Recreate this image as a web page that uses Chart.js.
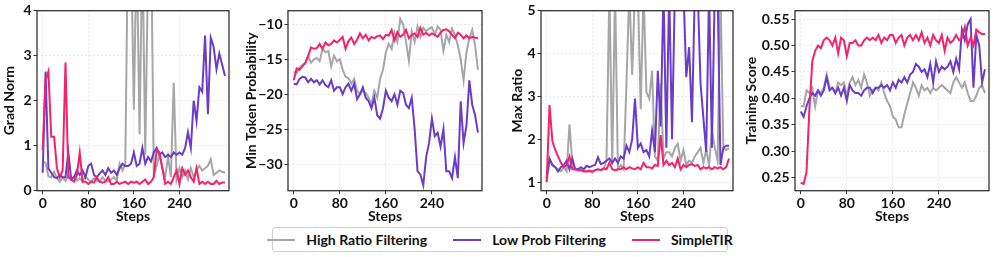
<!DOCTYPE html>
<html>
<head>
<meta charset="utf-8">
<script src="https://cdn.jsdelivr.net/npm/chart.js@4.4.0/dist/chart.umd.min.js"></script>
<style>
  body { margin: 0; width: 995px; height: 257px; background: #fff; position: relative; overflow: hidden; font-family: Lato, sans-serif; }
  canvas { position: absolute; top: 0; }
  #legend {
    position: absolute; left: 272px; top: 227px; width: 454px; height: 23px;
    border: 1px solid #cfcfcf; border-radius: 3px;
    display: flex; align-items: center; justify-content: center; gap: 26px;
    font: bold 14px Lato, sans-serif; color: #111; white-space: nowrap;
  }
  .item { display: flex; align-items: center; gap: 11px; flex-shrink: 0; }
  .swatch { width: 28px; height: 2px; }
</style>
</head>
<body>
<canvas id="grad"></canvas>
<canvas id="minprob"></canvas>
<canvas id="ratio"></canvas>
<canvas id="score"></canvas>
<div id="legend"></div>
<script>
const seriesNames = ["High Ratio Filtering", "Low Prob Filtering", "SimpleTIR"];
const seriesColors = ["#a6a6a6", "#6a3dc8", "#f5216a"];

const steps = [0,5,10,15,20,25,30,35,40,45,50,55,60,65,70,75,80,85,90,95,100,105,110,115,120,125,130,135,140,145,150,155,160,165,170,175,180,185,190,195,200,205,210,215,220,225,230,235,240,245,250,255,260,265,270,275,280,285,290,295,300,305,310,315,320];
const stepTicks = [0, 80, 160, 240];

// Grad Norm
const gradHigh = [0.65,0.62,0.32,0.3,0.42,0.28,0.2,0.3,0.22,0.35,
  0.25,0.3,0.22,0.28,0.2,0.32,0.25,0.2,0.28,0.22,
  0.2,0.3,0.22,0.2,0.25,0.3,0.22,0.6,0.45,0.6,
  6.0,5.5,1.8,5.5,1.25,5.5,0.8,5.0,6.0,0.35,
  0.55,0.8,0.5,0.3,0.75,0.3,2.4,0.25,0.5,0.3,
  0.45,0.25,0.5,0.3,0.45,0.55,0.45,0.5,0.55,0.7,
  0.35,0.4,0.45,0.42,0.4];
const gradLow = [0.4,2.65,0.5,0.4,0.3,0.28,0.35,0.3,0.3,0.85,
  0.25,0.3,0.45,0.35,0.45,0.3,0.55,0.6,0.35,0.3,
  0.38,0.45,0.35,0.5,0.4,0.45,0.35,0.5,0.6,0.55,
  0.55,0.6,0.85,0.55,0.6,0.95,0.6,0.75,0.65,0.85,
  0.95,0.8,0.85,0.75,0.8,0.75,0.85,0.8,0.85,0.8,
  0.95,1.3,0.95,2.0,1.55,2.3,2.2,3.45,1.7,3.4,
  3.2,2.7,3.05,2.8,2.55];
const gradSimple = [0.9,2.45,2.65,1.2,1.2,0.5,0.3,0.45,2.85,0.3,
  0.25,0.2,0.35,0.85,0.2,0.2,0.15,0.2,0.18,0.3,
  0.2,0.18,0.2,0.3,0.15,0.15,0.2,0.15,0.18,0.2,
  0.15,0.2,0.18,0.2,0.15,0.2,0.25,0.15,0.2,0.3,
  0.9,0.85,0.5,0.15,0.2,0.15,0.3,0.45,0.15,0.5,
  0.35,0.45,0.3,0.2,0.5,0.15,0.2,0.15,0.2,0.15,
  0.15,0.22,0.15,0.18,0.18];
const gradTicks = [0, 1, 2, 3, 4];

// Min Token Probability
const minHigh = [-16.8,-17,-16.2,-15.8,-15.6,-14.5,-15.5,-15,-14.8,-15.3,
  -13.5,-14,-13.8,-16,-14.5,-15.3,-15,-16.5,-17.5,-17.7,
  -18.5,-17.8,-19.5,-20,-19.5,-19.8,-20.5,-21.5,-19.5,-20.5,
  -17.8,-16.5,-14,-12.8,-13.5,-11.2,-12.5,-9.2,-10,-12.5,
  -15.2,-11,-12.5,-10.3,-11.8,-10.5,-11,-10.6,-10.4,-11.5,
  -10.3,-10.8,-13.8,-11.5,-12.5,-10.6,-11.5,-13,-15,-18,
  -14,-12,-10.8,-13,-16.5];
const minLow = [-18.5,-18.6,-17.8,-17.5,-17.6,-18.3,-17.8,-18.3,-18,-18.6,
  -18,-18.7,-19,-18,-19.5,-19,-19,-20,-19,-18.5,
  -19.5,-18.5,-20.7,-20,-19,-20.5,-21,-22,-20.5,-23,
  -23.5,-22,-19.5,-20.5,-21,-20,-21.5,-19.5,-19.8,-21.5,
  -22,-20.5,-25,-31,-31.5,-33,-29,-27,-23.5,-26,
  -25.5,-27.5,-25,-31,-31,-32,-29,-32,-21,-27,
  -24.5,-18,-21.5,-23,-25.5];
const minSimple = [-18,-16.3,-16.5,-16,-15.5,-14.5,-13.3,-13.5,-13.4,-12.8,
  -13.5,-12.6,-13,-12.8,-12.3,-12.6,-12.2,-11.8,-13.5,-12.4,
  -11.9,-12.8,-12.2,-11.3,-12,-11.5,-12.3,-11.8,-12,-11.7,
  -11.6,-12.1,-11.5,-11.6,-10.8,-12.3,-11.1,-11.8,-11.5,-10.8,
  -12,-11.5,-11.3,-11.8,-10.5,-11.5,-11.2,-11.6,-11.3,-11.5,
  -11.8,-11.2,-10.8,-10.7,-11,-11.5,-12,-11.2,-11.5,-12,
  -11.6,-12,-11.8,-11.9,-12];
const minTicks = [-30, -25, -20, -15, -10];

// Max Ratio
const ratioHigh = [1.0,1.5,1.4,1.35,1.3,1.25,1.35,1.25,2.35,1.45,
  1.3,1.3,1.28,1.27,1.25,1.25,1.22,1.28,1.3,1.28,
  1.3,1.5,5.5,1.4,5.5,1.3,1.4,1.3,3.3,5.5,
  3.5,5.5,5.5,2.7,5.5,3.1,2.95,3.6,1.6,1.5,
  3.3,1.55,1.7,1.7,1.6,1.8,1.9,1.5,1.75,1.4,
  1.5,1.45,1.6,1.7,1.8,1.45,1.75,1.4,2.2,1.8,
  1.5,5.5,1.8,1.75,1.8];
const ratioLow = [1.1,1.55,1.4,1.35,1.25,1.35,1.4,1.5,1.3,1.55,
  1.3,1.3,1.35,1.3,1.38,1.35,1.38,1.4,1.58,1.42,
  1.45,1.5,1.55,1.45,1.55,1.45,1.6,1.55,1.85,1.7,
  2.0,2.95,1.8,1.9,1.7,1.75,1.6,2.2,1.7,3.6,
  2.3,5.5,1.8,5.5,2.0,5.5,5.5,5.5,5.5,3.45,
  4.15,2.4,5.5,5.5,3.3,2.5,1.7,5.5,1.8,5.5,
  5.5,1.4,1.8,1.85,1.85];
const ratioSimple = [1.0,2.8,1.95,1.75,1.6,1.45,1.35,1.4,1.6,1.3,
  1.3,1.28,1.28,1.25,1.25,1.27,1.25,1.28,1.3,1.28,
  1.32,1.3,1.45,1.3,1.28,1.3,1.3,1.35,1.3,1.35,
  1.32,1.3,1.35,1.3,1.45,1.35,1.35,1.32,1.4,1.38,
  2.1,1.4,1.5,1.4,1.45,1.35,1.55,1.3,1.4,1.35,
  1.4,1.42,1.38,1.4,1.3,1.35,1.32,1.35,1.3,1.35,
  1.32,1.35,1.3,1.35,1.55];
const ratioTicks = [1, 2, 3, 4, 5];

// Training Score
const scoreHigh = [0.385,0.385,0.415,0.41,0.42,0.385,0.415,0.41,0.42,0.445,
  0.42,0.42,0.41,0.43,0.425,0.43,0.405,0.43,0.44,0.425,
  0.435,0.42,0.445,0.43,0.405,0.415,0.42,0.415,0.43,0.41,
  0.395,0.385,0.365,0.36,0.345,0.345,0.37,0.39,0.41,0.43,
  0.42,0.405,0.425,0.415,0.42,0.41,0.42,0.415,0.42,0.425,
  0.42,0.415,0.41,0.43,0.44,0.43,0.42,0.43,0.41,0.395,
  0.395,0.405,0.42,0.425,0.41];
const scoreLow = [0.375,0.365,0.385,0.4,0.41,0.405,0.415,0.405,0.415,0.44,
  0.415,0.42,0.41,0.42,0.405,0.42,0.395,0.425,0.415,0.41,
  0.41,0.405,0.415,0.42,0.42,0.41,0.42,0.42,0.425,0.42,
  0.425,0.415,0.43,0.42,0.435,0.43,0.44,0.43,0.445,0.45,
  0.465,0.46,0.45,0.455,0.44,0.465,0.43,0.47,0.45,0.46,
  0.455,0.46,0.47,0.45,0.475,0.455,0.53,0.51,0.54,0.55,
  0.42,0.52,0.5,0.43,0.455];
const scoreSimple = [0.24,0.238,0.26,0.38,0.47,0.49,0.5,0.495,0.51,0.515,
  0.51,0.5,0.515,0.485,0.515,0.51,0.48,0.505,0.505,0.51,
  0.5,0.5,0.51,0.515,0.51,0.515,0.51,0.52,0.505,0.515,
  0.51,0.52,0.52,0.505,0.515,0.52,0.5,0.515,0.52,0.51,
  0.52,0.51,0.525,0.505,0.515,0.5,0.52,0.51,0.505,0.52,
  0.49,0.515,0.505,0.51,0.52,0.51,0.515,0.535,0.5,0.515,
  0.5,0.53,0.525,0.522,0.522];
const scoreTicks = [0.25, 0.30, 0.35, 0.40, 0.45, 0.50, 0.55];

Chart.defaults.font.family = "Lato, sans-serif";
Chart.defaults.font.weight = "bold";
Chart.defaults.color = "#111";
Chart.defaults.animation = false;

const PLOT_TOP = 10.7;
const PLOT_BOTTOM = 190.7;
const CANVAS_H = 226;

// full box around the plot area, like a matplotlib frame
const frame = {
  id: "frame",
  afterDatasetsDraw(chart) {
    const { ctx, chartArea: a } = chart;
    ctx.save();
    ctx.strokeStyle = "#333";
    ctx.lineWidth = 1.3;
    ctx.strokeRect(a.left, a.top, a.right - a.left, a.bottom - a.top);
    ctx.restore();
  },
};

function makePanel(id, opts) {
  const canvas = document.getElementById(id);
  canvas.width = opts.right + 5 - opts.left;
  canvas.height = CANVAS_H;
  canvas.style.left = opts.left + "px";
  const yWidth = opts.plotLeft - opts.left;

  const datasets = opts.series.map((vals, i) => ({
    label: seriesNames[i],
    data: steps.map((s, j) => ({ x: s, y: vals[j] })),
    borderColor: seriesColors[i],
    borderWidth: 2,
    pointRadius: 0,
    tension: 0,
    fill: false,
    clip: 0,
    order: 3 - i,
  }));

  const grid = {
    color: "#e4e4e4",
    lineWidth: 0.8,
    tickColor: "#333",
    tickLength: 3.5,
    tickWidth: 1,
  };

  return new Chart(canvas.getContext("2d"), {
    type: "line",
    data: { datasets },
    options: {
      responsive: false,
      layout: { padding: { top: PLOT_TOP, right: 5, bottom: 0, left: 0 } },
      plugins: { legend: { display: false }, tooltip: { enabled: false } },
      scales: {
        x: {
          type: "linear",
          min: -10,
          max: 327,
          grid,
          border: { display: false, dash: [2, 2] },
          afterBuildTicks: (scale) => { scale.ticks = stepTicks.map((v) => ({ value: v })); },
          afterFit: (scale) => { scale.height = CANVAS_H - PLOT_BOTTOM; },
          ticks: { font: { size: 14 }, padding: 1, maxRotation: 0, callback: (v) => String(v) },
          title: { display: true, text: "Steps", font: { size: 14 }, padding: { top: 0, bottom: 1 } },
        },
        y: {
          min: opts.min,
          max: opts.max,
          grid,
          border: { display: false, dash: [2, 2] },
          afterBuildTicks: (scale) => { scale.ticks = opts.ticks.map((v) => ({ value: v })); },
          afterFit: (scale) => { scale.width = yWidth; },
          ticks: { font: { size: 14 }, padding: 2, callback: opts.fmt },
          title: { display: true, text: opts.title, font: { size: 14 }, padding: { top: 1, bottom: 0 } },
        },
      },
    },
    plugins: [frame],
  });
}

makePanel("grad", {
  left: 0, plotLeft: 37, right: 229.5,
  min: 0, max: 4, ticks: gradTicks, title: "Grad Norm",
  fmt: (v) => String(v),
  series: [gradHigh, gradLow, gradSimple],
});
makePanel("minprob", {
  left: 242, plotLeft: 288, right: 482,
  min: -33.8, max: -8.05, ticks: minTicks, title: "Min Token Probability",
  fmt: (v) => (v < 0 ? "\u2212" + Math.abs(v) : String(v)),
  series: [minHigh, minLow, minSimple],
});
makePanel("ratio", {
  left: 508, plotLeft: 541, right: 733.5,
  min: 0.8, max: 5, ticks: ratioTicks, title: "Max Ratio",
  fmt: (v) => String(v),
  series: [ratioHigh, ratioLow, ratioSimple],
});
makePanel("score", {
  left: 742, plotLeft: 795, right: 989,
  min: 0.225, max: 0.566, ticks: scoreTicks, title: "Training Score",
  fmt: (v) => v.toFixed(2),
  series: [scoreHigh, scoreLow, scoreSimple],
});

const legend = document.getElementById("legend");
seriesNames.forEach((name, i) => {
  const item = document.createElement("div");
  item.className = "item";
  item.innerHTML = `<span class="swatch" style="background:${seriesColors[i]}"></span><span>${name}</span>`;
  legend.appendChild(item);
});
</script>
</body>
</html>
